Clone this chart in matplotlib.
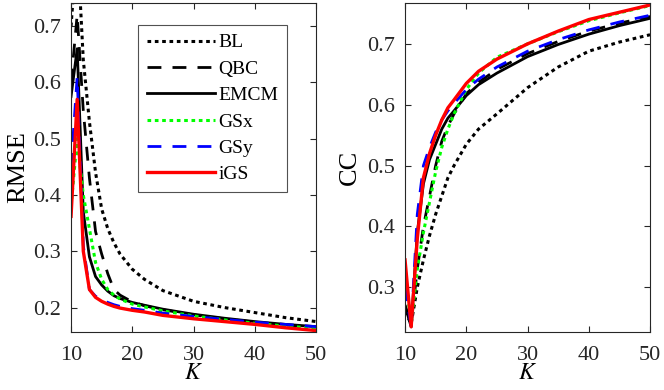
import matplotlib
matplotlib.use("Agg")
import matplotlib.pyplot as plt

plt.rcParams["font.family"] = ["Liberation Serif", "DejaVu Serif"]
plt.rcParams["mathtext.fontset"] = "stix"

K = [10, 11, 12, 13, 14, 15, 16, 17, 18, 20, 22, 25, 30, 35, 40, 45, 50]

rmse_bl = [0.70, 0.85, 0.64, 0.53, 0.44, 0.375, 0.34, 0.315, 0.295, 0.268, 0.25, 0.23, 0.211, 0.200, 0.191, 0.182, 0.175]
rmse_qbc = [0.60, 0.72, 0.55, 0.43, 0.335, 0.295, 0.26, 0.232, 0.222, 0.21, 0.203, 0.196, 0.187, 0.180, 0.174, 0.169, 0.165]
rmse_emcm = [0.575, 0.66, 0.37, 0.29, 0.255, 0.24, 0.229, 0.221, 0.216, 0.209, 0.204, 0.197, 0.188, 0.181, 0.175, 0.170, 0.166]
rmse_gsx = [0.38, 0.50, 0.40, 0.34, 0.28, 0.25, 0.232, 0.222, 0.215, 0.206, 0.201, 0.194, 0.185, 0.178, 0.172, 0.167, 0.163]
rmse_gsy = [0.45, 0.61, 0.31, 0.232, 0.22, 0.214, 0.209, 0.205, 0.202, 0.198, 0.195, 0.190, 0.184, 0.179, 0.174, 0.170, 0.166]
rmse_igs = [0.362, 0.57, 0.30, 0.232, 0.218, 0.211, 0.206, 0.202, 0.199, 0.195, 0.192, 0.186, 0.180, 0.175, 0.170, 0.164, 0.159]

cc_bl = [0.26, 0.24, 0.30, 0.345, 0.385, 0.42, 0.45, 0.48, 0.50, 0.535, 0.56, 0.585, 0.628, 0.662, 0.688, 0.703, 0.715]
cc_qbc = [0.27, 0.24, 0.33, 0.40, 0.45, 0.50, 0.54, 0.565, 0.585, 0.618, 0.637, 0.658, 0.684, 0.704, 0.721, 0.734, 0.745]
cc_emcm = [0.27, 0.235, 0.39, 0.47, 0.51, 0.535, 0.56, 0.578, 0.59, 0.615, 0.633, 0.652, 0.679, 0.699, 0.716, 0.730, 0.742]
cc_gsx = [0.32, 0.24, 0.33, 0.39, 0.44, 0.49, 0.53, 0.56, 0.585, 0.625, 0.652, 0.678, 0.700, 0.720, 0.738, 0.751, 0.763]
cc_gsy = [0.30, 0.235, 0.42, 0.50, 0.53, 0.555, 0.575, 0.59, 0.602, 0.625, 0.642, 0.662, 0.688, 0.707, 0.723, 0.736, 0.747]
cc_igs = [0.345, 0.235, 0.38, 0.48, 0.52, 0.55, 0.575, 0.595, 0.608, 0.635, 0.655, 0.675, 0.700, 0.721, 0.740, 0.752, 0.764]

labels = ["BL", "QBC", "EMCM", "GSx", "GSy", "iGS"]
styles = [
    dict(color="black", linestyle=(0, (1.2, 1.2)), linewidth=2.2),
    dict(color="black", linestyle=(0, (5, 4)), linewidth=2.0),
    dict(color="black", linestyle="-", linewidth=2.0),
    dict(color="#00ff00", linestyle=(0, (1.2, 1.2)), linewidth=2.2),
    dict(color="#0000ff", linestyle=(0, (5, 4)), linewidth=2.0),
    dict(color="#ff0000", linestyle="-", linewidth=2.4),
]

fig = plt.figure(figsize=(6.64, 3.90), dpi=100)
ax_rmse = fig.add_axes([0.107, 0.1495, 0.369, 0.8425])
ax_cc = fig.add_axes([0.610, 0.1495, 0.369, 0.8425])

for ys, lab, st in zip([rmse_bl, rmse_qbc, rmse_emcm, rmse_gsx, rmse_gsy, rmse_igs], labels, styles):
    ax_rmse.plot(K, ys, label=lab, **st)
for ys, st in zip([cc_bl, cc_qbc, cc_emcm, cc_gsx, cc_gsy, cc_igs], styles):
    ax_cc.plot(K, ys, **st)

ax_rmse.set_xlim(10, 50)
ax_rmse.set_ylim(0.157, 0.741)
ax_rmse.set_yticks([0.2, 0.3, 0.4, 0.5, 0.6, 0.7])
ax_rmse.set_ylabel("RMSE", fontsize=19, labelpad=3)

ax_cc.set_xlim(10, 50)
ax_cc.set_ylim(0.227, 0.767)
ax_cc.set_yticks([0.3, 0.4, 0.5, 0.6, 0.7])
ax_cc.set_ylabel("CC", fontsize=19, labelpad=5)

for ax in (ax_rmse, ax_cc):
    ax.set_xticks([10, 20, 30, 40, 50])
    ax.set_xlabel("$K$", fontsize=17, labelpad=-1)
    ax.tick_params(direction="in", top=True, right=True, labelsize=16,
                   length=4, width=0.8, colors="#262626")
    ax.tick_params(axis="x", pad=10)
    ax.tick_params(axis="y", pad=7)
    for sp in ax.spines.values():
        sp.set_color("#262626")
        sp.set_linewidth(0.8)

leg = ax_rmse.legend(loc="upper left", bbox_to_anchor=(0.273, 0.933), fontsize=14,
                     frameon=True, fancybox=False, edgecolor="#262626",
                     handlelength=3.5, handletextpad=0.2, labelspacing=0.45,
                     borderpad=0.45, borderaxespad=0)
leg.get_frame().set_linewidth(0.8)

plt.savefig("out.png")
